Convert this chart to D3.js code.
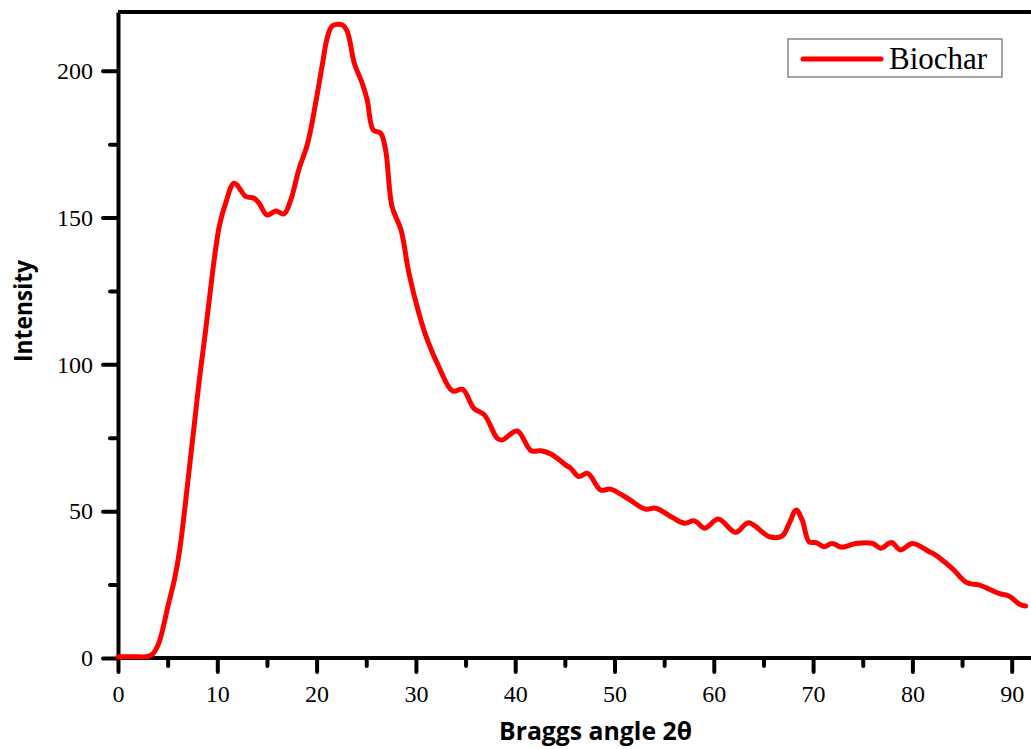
<!DOCTYPE html>
<html>
<head>
<meta charset="utf-8">
<script src="https://cdn.jsdelivr.net/npm/d3@7"></script>
<style>
  body { margin: 0; background: #fff; }
  svg { display: block; }
</style>
</head>
<body>
<div id="chart"></div>
<script>
// XRD pattern of biochar
var angle = [0, 1, 2, 3.0, 3.5, 4.1, 5.1, 5.7, 6.2, 6.7, 7.2, 7.8, 8.2, 8.8, 9.3, 9.7, 10.2, 10.85, 11.7,
  12.9, 13.7, 14.2, 15.0, 15.9, 16.7, 17.4, 18.2, 19.1, 19.9, 20.6, 21.1, 21.6, 22.6, 23.1,
  23.8, 24.6, 25.1, 25.7, 26.45, 26.95, 27.6, 28.5, 29.3, 30.3, 31.15, 32.3, 33.7, 34.7,
  35.85, 36.9, 38.2, 38.7, 40.2, 41.6, 42.6, 43.6, 45.1, 45.6, 46.4, 47.3, 48.6, 49.6,
  51.3, 53.1, 54.15, 55.8, 57.05, 58.05, 59.1, 60.45, 62.2, 63.5, 65.6, 66.9, 67.6, 68.3,
  68.9, 69.6, 70.3, 71.1, 71.9, 72.9, 74.3, 76.0, 76.8, 77.9, 78.8, 80.0, 81.7, 82.3,
  84.0, 85.5, 86.7, 88.7, 89.7, 90.9, 91.4]
var intensity = [0.4, 0.4, 0.4, 0.5, 1.4, 5.0, 18.6, 27, 36.5, 50, 65, 83, 95, 111, 125, 136, 147, 155, 161.7,
  157.1, 156.6, 154.9, 150.9, 152.2, 151.2, 156, 166.2, 175.3, 188.9, 202.5, 211.6, 215.3, 215.6, 213.3,
  202.5, 195.7, 190, 179.8, 178.7, 173, 153.7, 145.8, 131, 117.4, 108.3, 99.2, 90.9, 91.5,
  85, 82.8, 74.8, 74.3, 77.3, 70.6, 70.6, 69.5, 65.7, 64.6, 61.8, 62.9, 57.2, 57.5,
  54.4, 50.7, 51, 47.9, 45.9, 46.7, 44.2, 47.3, 42.8, 46.1, 41.3, 41.6, 45.9, 50.4,
  47, 39.6, 39.3, 37.9, 39, 37.7, 39, 39, 37.4, 39.3, 36.8, 39, 36.2, 35.1,
  30.5, 25.6, 24.9, 22, 21.1, 18.1, 17.7]

var xMajor = [0, 10, 20, 30, 40, 50, 60, 70, 80, 90]
var xMinor = [5, 15, 25, 35, 45, 55, 65, 75, 85]
var yMajor = [0, 50, 100, 150, 200]
var yMinor = [25, 75, 125, 175]

var width = 1031, height = 749

var svg = d3.select("#chart").append("svg")
    .attr("width", width)
    .attr("height", height)

var x = d3.scaleLinear().domain([0, 95]).range([118, 118 + 95 * 9.93])
var y = d3.scaleLinear().domain([0, 220]).range([658, 12])

// top frame line (right side runs off the picture)
svg.append("line")
    .attr("x1", x(0)).attr("x2", width + 20)
    .attr("y1", y(220)).attr("y2", y(220))
    .style("stroke", "#000").style("stroke-width", 4)

function styleAxis(g) {
    g.select(".domain").style("stroke-width", 4).style("stroke", "#000")
    g.selectAll(".tick line").style("stroke-width", 4).style("stroke-linecap", "round")
    g.selectAll("text").style("font-family", "'Liberation Serif', 'Times New Roman', serif")
        .style("font-size", "24px").style("fill", "#000")
}

// x axis
var xg = svg.append("g").attr("transform", "translate(0," + y(0) + ")")
    .call(d3.axisBottom(x).tickValues(xMajor).tickSize(14).tickPadding(13).tickSizeOuter(0))
xg.select(".domain").attr("d", "M" + x(0) + ",0H" + (width + 20))
styleAxis(xg)
var xm = svg.append("g").attr("transform", "translate(0," + y(0) + ")")
    .call(d3.axisBottom(x).tickValues(xMinor).tickSize(8).tickFormat(""))
xm.select(".domain").remove()
styleAxis(xm)

// y axis
var yg = svg.append("g").attr("transform", "translate(" + x(0) + ",0)")
    .call(d3.axisLeft(y).tickValues(yMajor).tickSize(15).tickPadding(10).tickSizeOuter(0))
styleAxis(yg)
var ym = svg.append("g").attr("transform", "translate(" + x(0) + ",0)")
    .call(d3.axisLeft(y).tickValues(yMinor).tickSize(8).tickFormat(""))
ym.select(".domain").remove()
styleAxis(ym)

// curve
var pts = angle.map(function(a, i) { return [a, intensity[i]] })
var line = d3.line()
    .x(function(d) { return x(d[0]) })
    .y(function(d) { return y(d[1]) })
    .curve(d3.curveCatmullRom.alpha(0.5))

svg.append("path")
    .datum(pts)
    .attr("d", line)
    .style("fill", "none")
    .style("stroke", "#ff0000")
    .style("stroke-width", 5)
    .style("stroke-linejoin", "round")
    .style("stroke-linecap", "round")

// axis titles
svg.append("text")
    .attr("x", 499).attr("y", 740)
    .attr("textLength", 193).attr("lengthAdjust", "spacingAndGlyphs")
    .style("font-family", "'Open Sans', sans-serif")
    .style("font-weight", "bold").style("font-size", "25px")
    .text("Braggs angle 2θ")

svg.append("text")
    .attr("transform", "translate(32,311) rotate(-90)")
    .attr("text-anchor", "middle")
    .attr("textLength", 102).attr("lengthAdjust", "spacingAndGlyphs")
    .style("font-family", "'Open Sans', sans-serif")
    .style("font-weight", "bold").style("font-size", "25px")
    .text("Intensity")

// legend
var lg = svg.append("g")
lg.append("rect")
    .attr("x", 788).attr("y", 39).attr("width", 214).attr("height", 38)
    .style("fill", "#fff").style("stroke", "#666").style("stroke-width", 1.2)
lg.append("line")
    .attr("x1", 803).attr("x2", 881).attr("y1", 59).attr("y2", 59)
    .style("stroke", "#ff0000").style("stroke-width", 5).style("stroke-linecap", "round")
lg.append("text")
    .attr("x", 889).attr("y", 69)
    .style("font-family", "'Liberation Serif', 'Times New Roman', serif")
    .style("font-size", "31px")
    .text("Biochar")
</script>
</body>
</html>
